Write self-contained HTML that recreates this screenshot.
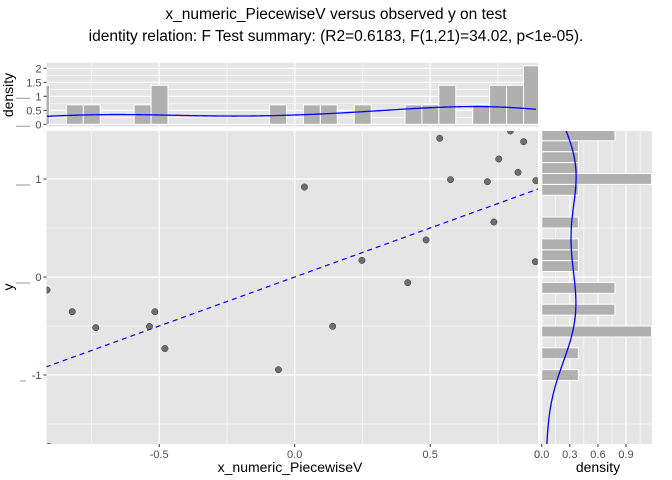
<!DOCTYPE html>
<html><head><meta charset="utf-8"><style>
body{margin:0;background:#fff}
svg{display:block;font-family:"Liberation Sans",Arial,sans-serif}
</style></head><body>
<svg id="chart" width="672" height="480" viewBox="0 0 672 480">
<text x="336" y="19" font-size="15.5" text-anchor="middle" fill="#000">x_numeric_PiecewiseV versus observed y on test</text>
<text x="336" y="41" font-size="15.5" text-anchor="middle" fill="#000">identity relation: F Test summary: (R2=0.6183, F(1,21)=34.02, p&lt;1e-05).</text>
<g id="top"></g><g id="main"></g><g id="right"></g>
<text x="290" y="472" font-size="14" text-anchor="middle">x_numeric_PiecewiseV</text>
<text transform="translate(13,287) rotate(-90)" font-size="14" text-anchor="middle">y</text>
<text transform="translate(13,95) rotate(-90)" font-size="14" text-anchor="middle">density</text>
<text x="598" y="472" font-size="14" text-anchor="middle">density</text>
</svg>
<script>
const xVals=[-0.914,-0.907,-0.821,-0.734,-0.536,-0.516,-0.479,-0.060,0.036,0.140,0.248,0.417,0.485,0.535,0.575,0.711,0.735,0.753,0.796,0.824,0.845,0.890,0.888];
const yVals=[-0.133,-1.73,-0.354,-0.517,-0.505,-0.354,-0.730,-0.946,0.918,-0.503,0.170,-0.058,0.378,1.415,0.993,0.973,0.561,1.204,1.490,1.068,1.381,0.983,0.156];
const xTicks=[-0.5,0,0.5];
const xTickLabels=["-0.5","0.0","0.5"];
const yTicks=[-1,0,1];
const yTickLabels=["-1","0","1"];
const topDensTicks=[0,0.5,1,1.5,2];
const topDensLabels=["0","0.5","1","1.5","2"];
const rightDensTicks=[0,0.3,0.6,0.9];
const rightDensLabels=["0.0","0.3","0.6","0.9"];
const fitLine=[[-0.95,-0.95],[0.95,0.95]];
const xBinOrigin=-0.8424, xBinW=0.06247;
const yBinOrigin=1.390, yBinW=0.1112;

const NS="http://www.w3.org/2000/svg";
function mk(p,t,a){const e=document.createElementNS(NS,t);for(const k in a)e.setAttribute(k,a[k]);p.appendChild(e);return e;}
const BG='#E5E5E5';
const L=46.5,R=538,T=131,B=444;
const X=v=>294.7+271*v, Y=v=>277-98*v;
const TT=62.7,TB=126.7, TY=d=>124.3-28*d;
const RL=540.5,RR=652, RX=d=>541.7+93.7*d;

const defs=mk(document.getElementById('chart'),'defs',{});
const c1=mk(defs,'clipPath',{id:'cm'});mk(c1,'rect',{x:L,y:T,width:R-L,height:B-T});
const c2=mk(defs,'clipPath',{id:'ct'});mk(c2,'rect',{x:L,y:TT,width:R-L,height:TB-TT});
const c3=mk(defs,'clipPath',{id:'cr'});mk(c3,'rect',{x:RL,y:T,width:RR-RL,height:B-T});

function kde(data,grid){const n=data.length,m=data.reduce((a,b)=>a+b)/n;
 const sd=Math.sqrt(data.reduce((a,b)=>a+(b-m)*(b-m),0)/(n-1));
 const s=[...data].sort((a,b)=>a-b);const q=i=>{const p=(n-1)*i,f=Math.floor(p);return s[f]+(s[Math.min(f+1,n-1)]-s[f])*(p-f)};
 const iqr=(q(0.75)-q(0.25))/1.34;const h=0.9*Math.min(sd,iqr)*Math.pow(n,-0.2);
 return grid.map(g=>data.reduce((a,d)=>a+Math.exp(-0.5*((g-d)/h)**2),0)/(n*h*Math.sqrt(2*Math.PI)));}
function hist(data,o,w){const c={};data.forEach(v=>{const k=Math.floor((v-o)/w);c[k]=(c[k]||0)+1});return Object.keys(c).map(k=>({k:+k,d:c[k]/(data.length*w)}));}

const gm=document.getElementById('main');
let e=mk(gm,'rect',{x:L,y:T,width:R-L,height:B-T,fill:BG});

[-0.75,-0.25,0.25,0.75].forEach(v=>mk(gm,'line',{x1:X(v),x2:X(v),y1:T,y2:B,stroke:'#fff','stroke-width':0.6}));
[-1.5,-0.5,0.5,1.5].forEach(v=>{if(Y(v)>T&&Y(v)<B)mk(gm,'line',{x1:L,x2:R,y1:Y(v),y2:Y(v),stroke:'#fff','stroke-width':0.6})});
xTicks.forEach((v,i)=>{mk(gm,'line',{x1:X(v),x2:X(v),y1:T,y2:B,stroke:'#fff','stroke-width':1.2});
 mk(gm,'line',{x1:X(v),x2:X(v),y1:B,y2:B+3,stroke:'#333','stroke-width':1});
 const t=mk(gm,'text',{x:X(v),y:B+14,'font-size':11,'text-anchor':'middle',fill:'#4D4D4D'});t.textContent=xTickLabels[i];
 });
e=mk(gm,'text',{x:534,y:B+14,'font-size':11,fill:'#4D4D4D'});e.textContent='0.';
yTicks.forEach((v,i)=>{mk(gm,'line',{x1:L,x2:R,y1:Y(v),y2:Y(v),stroke:'#fff','stroke-width':1.2});
 mk(gm,'line',{x1:L-3,x2:L,y1:Y(v),y2:Y(v),stroke:'#333','stroke-width':1});
 const t=mk(gm,'text',{x:L-5,y:Y(v)+4,'font-size':11,'text-anchor':'end',fill:'#4D4D4D'});t.textContent=yTickLabels[i];
 
 mk(gm,'line',{x1:v<0?20:16,x2:v<0?26:30,y1:Y(v)+6,y2:Y(v)+6,stroke:'#AAA','stroke-width':1.2});});
const gc=mk(gm,'g',{'clip-path':'url(#cm)'});
e=mk(gc,'line',{x1:X(fitLine[0][0]),y1:Y(fitLine[0][1]),x2:X(fitLine[1][0]),y2:Y(fitLine[1][1]),stroke:'#0000FF','stroke-width':1.2,'stroke-dasharray':'5,4'});

xVals.forEach((x,i)=>{const p=mk(gc,'circle',{cx:X(x),cy:Y(yVals[i]),r:3.2,fill:'#595959','fill-opacity':0.85,stroke:'#333','stroke-width':0.5});
 });

const gt=document.getElementById('top');
e=mk(gt,'rect',{x:L,y:TT,width:R-L,height:TB-TT,fill:BG});

[-0.75,-0.25,0.25,0.75].forEach(v=>mk(gt,'line',{x1:X(v),x2:X(v),y1:TT,y2:TB,stroke:'#fff','stroke-width':0.6}));
[0.25,0.75,1.25,1.75].forEach(v=>mk(gt,'line',{x1:L,x2:R,y1:TY(v),y2:TY(v),stroke:'#fff','stroke-width':0.6}));
xTicks.forEach(v=>mk(gt,'line',{x1:X(v),x2:X(v),y1:TT,y2:TB,stroke:'#fff','stroke-width':1.2}));
topDensTicks.forEach((v,i)=>{mk(gt,'line',{x1:L,x2:R,y1:TY(v),y2:TY(v),stroke:'#fff','stroke-width':1.2});
 mk(gt,'line',{x1:L-3,x2:L,y1:TY(v),y2:TY(v),stroke:'#333','stroke-width':1});
 const t=mk(gt,'text',{x:L-5,y:TY(v)+4,'font-size':11,'text-anchor':'end',fill:'#4D4D4D'});t.textContent=topDensLabels[i];
 });
[1,0].forEach(v=>mk(gt,'line',{x1:16,x2:30,y1:TY(v)+2,y2:TY(v)+2,stroke:'#AAA','stroke-width':1.2}));
const gtc=mk(gt,'g',{'clip-path':'url(#ct)'});
hist(xVals,xBinOrigin,xBinW).forEach(b=>{const x0=X(xBinOrigin+b.k*xBinW),x1=X(xBinOrigin+(b.k+1)*xBinW);
 const r=mk(gtc,'rect',{x:x0,y:TY(b.d),width:x1-x0,height:TY(0)-TY(b.d),fill:'#B0B0B0',stroke:'#fff','stroke-width':1});
 });
{const xs=[];const a=Math.min(...xVals),b=Math.max(...xVals);for(let i=0;i<=200;i++)xs.push(a+(b-a)*i/200);
 const d=kde(xVals,xs);e=mk(gtc,'path',{d:xs.map((x,i)=>(i?'L':'M')+X(x)+','+TY(d[i])).join(''),fill:'none',stroke:'#0000FF','stroke-width':1.3});
 }

const gr=document.getElementById('right');
e=mk(gr,'rect',{x:RL,y:T,width:RR-RL,height:B-T,fill:BG});

[0.15,0.45,0.75,1.05].forEach(v=>mk(gr,'line',{x1:RX(v),x2:RX(v),y1:T,y2:B,stroke:'#fff','stroke-width':0.6}));
[-1.5,-0.5,0.5,1.5].forEach(v=>{if(Y(v)>T&&Y(v)<B)mk(gr,'line',{x1:RL,x2:RR,y1:Y(v),y2:Y(v),stroke:'#fff','stroke-width':0.6})});
yTicks.forEach(v=>mk(gr,'line',{x1:RL,x2:RR,y1:Y(v),y2:Y(v),stroke:'#fff','stroke-width':1.2}));
rightDensTicks.forEach((v,i)=>{mk(gr,'line',{x1:RX(v),x2:RX(v),y1:T,y2:B,stroke:'#fff','stroke-width':1.2});
 mk(gr,'line',{x1:RX(v),x2:RX(v),y1:B,y2:B+3,stroke:'#333','stroke-width':1});
 const t=mk(gr,'text',{x:RX(v),y:B+14,'font-size':11,'text-anchor':'middle',fill:'#4D4D4D'});t.textContent=rightDensLabels[i];
 });
const grc=mk(gr,'g',{'clip-path':'url(#cr)'});
hist(yVals,yBinOrigin,yBinW).forEach(b=>{const y0=Y(yBinOrigin+(b.k+1)*yBinW),y1=Y(yBinOrigin+b.k*yBinW);
 const r=mk(grc,'rect',{x:RX(0),y:y0,width:RX(b.d)-RX(0),height:y1-y0,fill:'#B0B0B0',stroke:'#fff','stroke-width':1});
 });
{const ys=[];const a=Math.min(...yVals),b=Math.max(...yVals);for(let i=0;i<=200;i++)ys.push(a+(b-a)*i/200);
 const d=kde(yVals,ys);e=mk(grc,'path',{d:ys.map((y,i)=>(i?'L':'M')+RX(d[i])+','+Y(y)).join(''),fill:'none',stroke:'#0000FF','stroke-width':1.3});
 }
</script>
</body></html>
